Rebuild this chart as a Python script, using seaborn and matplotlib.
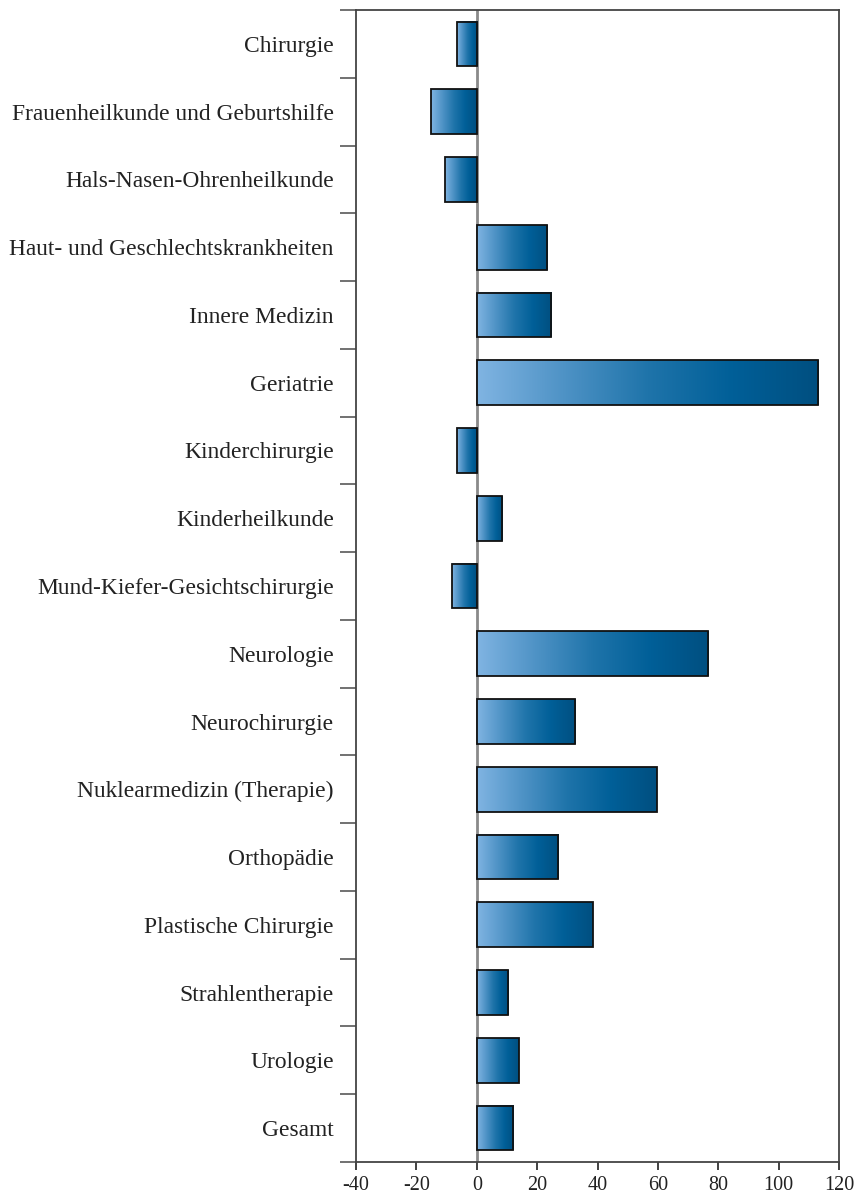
import numpy as np
import pandas as pd
import matplotlib
matplotlib.use("Agg")
import matplotlib.pyplot as plt
import seaborn as sns
from matplotlib.colors import LinearSegmentedColormap

# Data
categories = [
    "Chirurgie", "Frauenheilkunde und Geburtshilfe", "Hals-Nasen-Ohrenheilkunde",
    "Haut- und Geschlechtskrankheiten", "Innere Medizin", "Geriatrie",
    "Kinderchirurgie", "Kinderheilkunde", "Mund-Kiefer-Gesichtschirurgie",
    "Neurologie", "Neurochirurgie", "Nuklearmedizin (Therapie)", "Orthopädie",
    "Plastische Chirurgie", "Strahlentherapie", "Urologie", "Gesamt",
]
values = [-6.7, -15.0, -10.5, 23.4, 24.7, 113.2, -6.7, 8.4, -8.2,
          76.7, 32.7, 59.6, 27.0, 38.4, 10.4, 13.9, 12.1]
x_ticks = [-40, -20, 0, 20, 40, 60, 80, 100, 120]

df = pd.DataFrame({"Fachabteilung": categories, "Wert": values})

sns.set_style("white")
plt.rcParams["font.family"] = ["Liberation Serif", "DejaVu Serif"]

fig = plt.figure(figsize=(8.55, 12.03), dpi=100)
ax = fig.add_axes([356 / 855, 1 - 1162 / 1203, 483 / 855, 1152 / 1203])

sns.barplot(data=df, x="Wert", y="Fachabteilung", orient="h", width=0.66,
            color="#3a88bf", ax=ax, zorder=2)

# gradient fill: light blue on the left to dark blue on the right
cmap = LinearSegmentedColormap.from_list(
    "blues", ["#80b4e2", "#4f93c6", "#1f74aa", "#005f98", "#004f80"])
grad = np.linspace(0, 1, 256).reshape(1, -1)
for p in ax.patches:
    x0, y0 = p.get_x(), p.get_y()
    w, h = p.get_width(), p.get_height()
    xl, xr = min(x0, x0 + w), max(x0, x0 + w)
    ax.imshow(grad, cmap=cmap, aspect="auto", extent=(xl, xr, y0 + h, y0),
              zorder=2, interpolation="bicubic")
    p.set_facecolor("none")
    p.set_edgecolor("#111111")
    p.set_linewidth(1.3)
    p.set_zorder(3)

ax.axvline(0, color="#8a8a8a", lw=2, zorder=1)

ax.set_xlim(-40, 120)
ax.set_ylim(len(categories) - 0.5, -0.5)
ax.set_xticks(x_ticks)
ax.set_xticklabels([str(t) for t in x_ticks], fontsize=14.5, color="#222222")

# category boundaries as ticks, labels centered between them
ax.set_yticks(np.arange(-0.5, len(categories), 1.0))
ax.set_yticklabels([])
ax.set_yticks(np.arange(len(categories)), minor=True)
ax.set_yticklabels(categories, minor=True, fontsize=16.9, color="#222222")
ax.tick_params(axis="y", which="major", length=11.5, width=1.3, color="#666666",
               left=True, direction="out")
ax.tick_params(axis="y", which="minor", length=0, pad=16)
ax.tick_params(axis="x", length=6, width=1.3, color="#333333", bottom=True,
               direction="out", pad=4)

for s in ax.spines.values():
    s.set_visible(True)
    s.set_color("#444444")
    s.set_linewidth(1.3)

ax.set_xlabel("")
ax.set_ylabel("")

fig.savefig("out.png", dpi=100)
